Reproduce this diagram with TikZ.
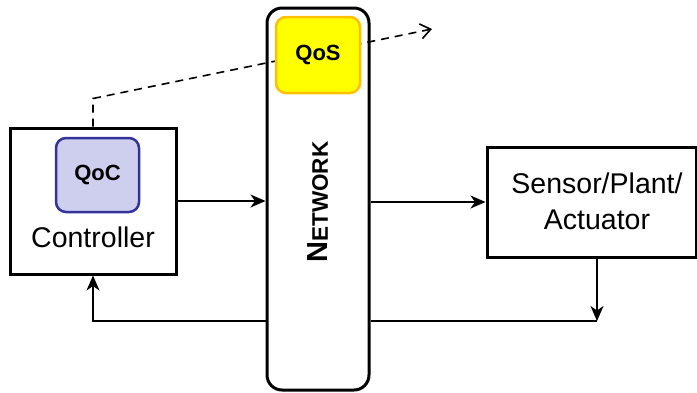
\documentclass[tikz,border=0pt]{standalone}
\usepackage{fontspec}
\setmainfont{Liberation Sans}
\usetikzlibrary{arrows.meta}
\definecolor{qocfill}{RGB}{206,206,238}
\definecolor{qocdraw}{RGB}{51,51,153}
\definecolor{qosfill}{RGB}{255,255,0}
\definecolor{qosdraw}{RGB}{255,192,0}
\tikzset{
  blockbox/.style={draw=black, line width=3pt, fill=white, inner sep=0pt},
  qbox/.style={line width=2.5pt, rounded corners=10pt, inner sep=0pt,
    font=\fontsize{22}{26}\selectfont\bfseries},
  bigtext/.style={inner sep=0pt, font=\fontsize{28.5}{36}\selectfont, align=center},
  conn/.style={line width=1.6pt, -{Stealth[length=15pt,width=13pt,inset=4.5pt]}},
  plain/.style={line width=1.6pt},
  qline/.style={line width=1.6pt, dash pattern=on 8pt off 6pt, -{Straight Barb[length=10pt,width=15pt]}}
}
\begin{document}
\begin{tikzpicture}[x=1pt,y=-1pt]
\useasboundingbox (0,0) rectangle (697,392);
% network
\node[blockbox, rounded corners=15pt, minimum width=102pt, minimum height=382pt] (net) at (318,199) {};
\node[inner sep=0pt, rotate=90, font=\bfseries] (nettext) at (318,202)
  {{\fontsize{29}{30}\selectfont N}{\fontsize{22.5}{26}\selectfont ETWORK}};
% controller
\node[blockbox, minimum width=166pt, minimum height=146pt] (ctrl) at (93,201) {};
\node[bigtext] (ctrltext) at (93,237.5) {Controller};
\node[qbox, draw=qocdraw, fill=qocfill, minimum width=83pt, minimum height=74pt] (qoc) at (97.5,175) {QoC};
% sensor
\node[blockbox, minimum width=209pt, minimum height=110pt] (sens) at (591.5,202) {};
\node[bigtext] (senstext) at (597,201.5) {Sensor/Plant/\\Actuator};
% dashed QoS line
\coordinate (qend) at (432,29);
\draw[qline] (ctrl.north) -- ++(0,-28) -- (qend);
\node[qbox, draw=qosdraw, fill=qosfill, minimum width=84pt, minimum height=76pt] (qos) at (318,55) {QoS};
% connectors
\draw[conn] (ctrl.east) -- (ctrl.east -| net.west);
\draw[conn] (sens.west -| net.east) -- (sens.west);
\coordinate (sd) at (597,321);
\draw[conn] (sd |- sens.south) -- (sd);
\draw[plain] (net.east |- sd) -- (sd);
\draw[conn] (net.west |- sd) -| (ctrl.south);
\end{tikzpicture}
\end{document}
